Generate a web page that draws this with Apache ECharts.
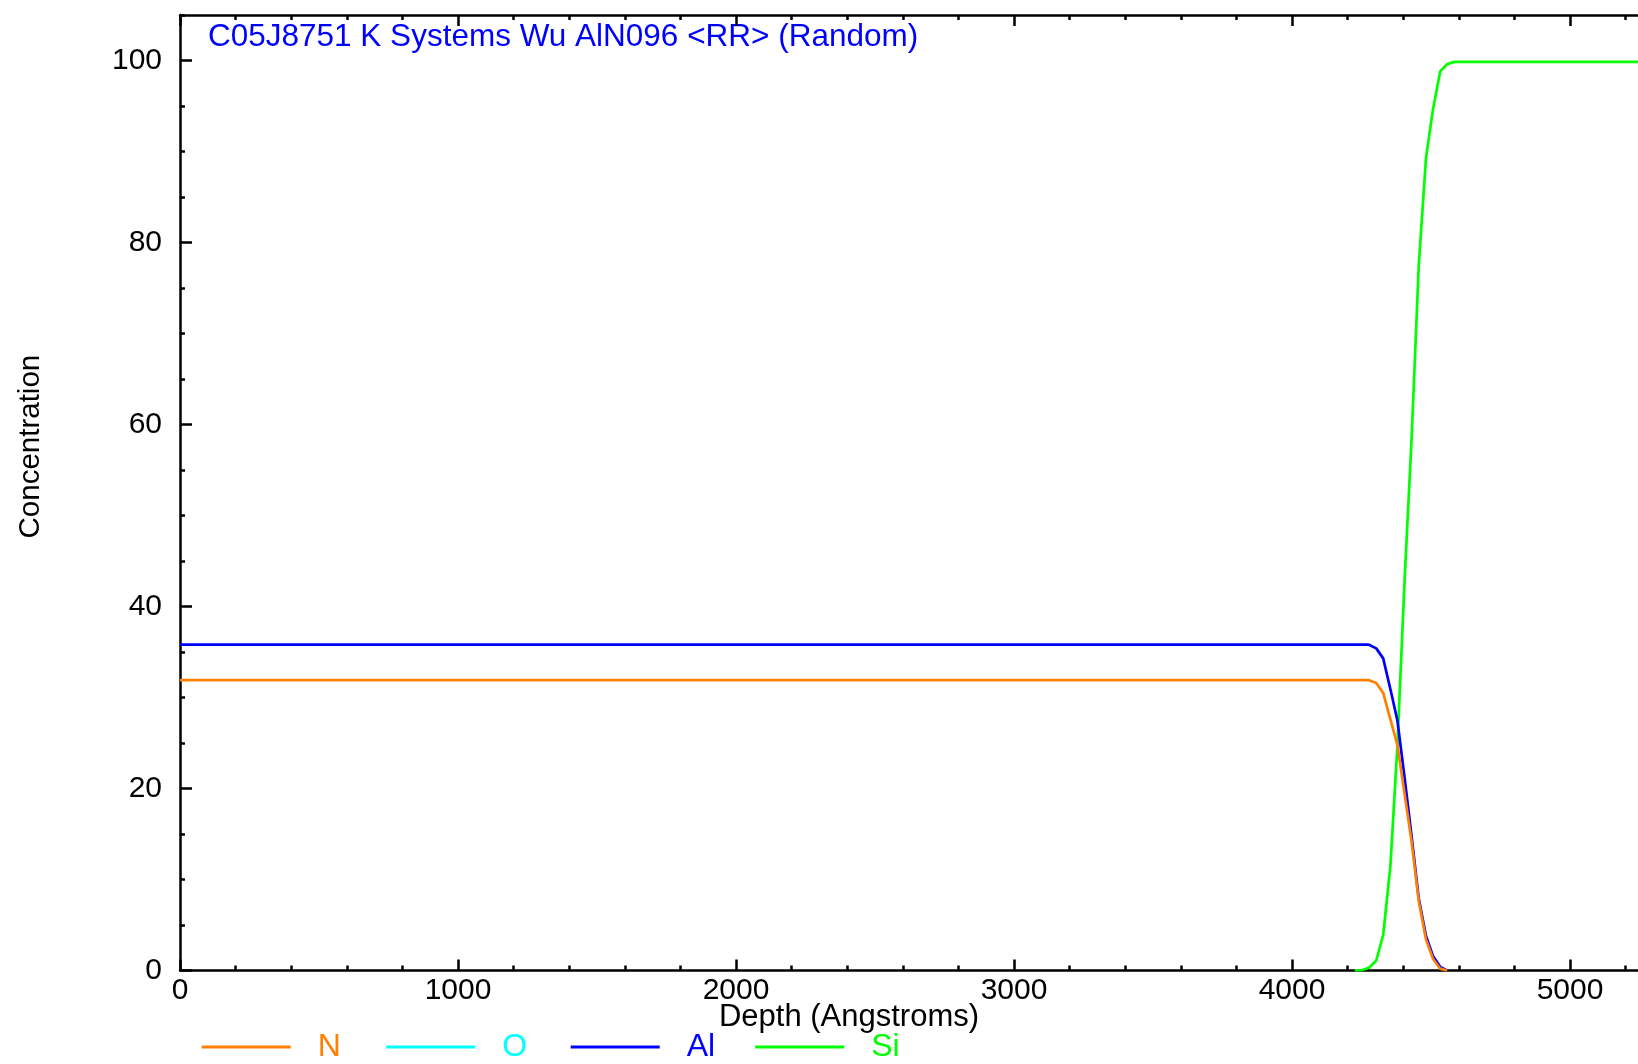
<!DOCTYPE html>
<html>
<head>
<meta charset="utf-8">
<script src="https://cdn.jsdelivr.net/npm/echarts@6/dist/echarts.min.js"></script>
<style>
  html, body { margin: 0; padding: 0; background: #ffffff; }
  #chart { width: 1638px; height: 1064px; }
</style>
</head>
<body>
<div id="chart"></div>
<script>
// ---- Data ----
const seriesNames = ['N', 'O', 'Al', 'Si'];
const seriesColors = ['#FF8000', '#00FFFF', '#0000FF', '#00FF00'];

const depthN  = [0, 4277, 4303, 4328, 4354, 4379, 4405, 4430, 4456, 4482, 4507, 4533, 4558];
const concN   = [31.9, 31.9, 31.6, 30.5, 27.6, 24.8, 19.4, 14.2, 7.6, 3.4, 1.3, 0.2, 0];

const depthO  = [];   // O is not visible in the plotted range
const concO   = [];

const depthAl = [0, 4277, 4303, 4328, 4354, 4379, 4405, 4430, 4456, 4482, 4507, 4533, 4558];
const concAl  = [35.8, 35.8, 35.4, 34.3, 30.9, 27.5, 21.2, 14.8, 7.9, 3.8, 1.6, 0.4, 0];

const depthSi = [4226, 4252, 4277, 4303, 4328, 4354, 4379, 4405, 4430, 4456, 4482, 4507, 4533, 4558, 4584, 6000];
const concSi  = [0, 0.05, 0.3, 1.1, 3.9, 11.5, 24.6, 42.9, 58.3, 77.5, 89.3, 94.6, 98.8, 99.6, 99.85, 99.85];

const titleText = 'C05J8751 K Systems Wu AlN096 <RR> (Random)';
const xAxisName = 'Depth (Angstroms)';
const yAxisName = 'Concentration';

// ---- Build chart ----
const FONT = '"Liberation Sans", Arial, Helvetica, sans-serif';
const pair = (xs, ys) => xs.map((x, i) => [x, ys[i]]);

const chart = echarts.init(document.getElementById('chart'), null, { renderer: 'canvas' });

const lineSt = { color: '#000', width: 2.5 };

const xBase = {
  type: 'value', min: 0, max: 6000, interval: 1000,
  axisLine: { show: true, onZero: false, lineStyle: lineSt },
  axisTick: { show: true, inside: true, length: 11, lineStyle: lineSt },
  minorTick: { show: true, splitNumber: 5, length: 5, lineStyle: lineSt },
  splitLine: { show: false },
  minorSplitLine: { show: false }
};

const seriesDefs = [
  { name: 'Si', data: pair(depthSi, concSi), color: seriesColors[3] },
  { name: 'Al', data: pair(depthAl, concAl), color: seriesColors[2] },
  { name: 'O',  data: pair(depthO, concO),   color: seriesColors[1] },
  { name: 'N',  data: pair(depthN, concN),   color: seriesColors[0] }
];

const option = {
  backgroundColor: '#ffffff',
  animation: false,
  grid: { left: 180, top: 15, width: 1668, height: 955.5, containLabel: false, outerBoundsMode: 'none' },
  xAxis: [
    Object.assign({}, xBase, {
      position: 'bottom',
      axisLabel: { show: true, color: '#000', fontSize: 30, fontFamily: FONT, margin: 5,
                   formatter: v => String(v) }
    }),
    Object.assign({}, xBase, {
      position: 'top',
      axisLabel: { show: false }
    })
  ],
  yAxis: [
    {
      type: 'value', min: 0, max: 105, interval: 20, position: 'left',
      axisLine: { show: true, onZero: false, lineStyle: lineSt },
      axisTick: { show: true, inside: true, length: 12, lineStyle: lineSt },
      axisLabel: { show: true, color: '#000', fontSize: 30, fontFamily: FONT, margin: 18, showMaxLabel: false,
                   formatter: v => String(v) },
      splitLine: { show: false }
    },
    {
      type: 'value', min: 0, max: 105, interval: 5, position: 'left',
      axisLine: { show: false, onZero: false },
      axisTick: { show: true, inside: true, length: 5, lineStyle: lineSt },
      axisLabel: { show: false },
      splitLine: { show: false }
    }
  ],
  legend: seriesNames.map((n, i) => ({
    data: [n],
    left: 201.7 + i * 184.5,
    top: 1031,
    padding: 0,
    icon: 'rect',
    itemWidth: 89,
    itemHeight: 3,
    selectedMode: false,
    textStyle: { color: seriesColors[i], fontSize: 32, fontFamily: FONT, padding: [0, 0, 0, 22] }
  })),
  graphic: [
    {
      type: 'text', x: 208, y: 37.5,
      style: { text: titleText, fill: '#0000FF', font: '31.5px ' + FONT, align: 'left', verticalAlign: 'middle' }
    },
    {
      type: 'text', x: 849, y: 1017,
      style: { text: xAxisName, fill: '#000', font: '31px ' + FONT, align: 'center', verticalAlign: 'middle' }
    },
    {
      type: 'text', x: 31, y: 446.6, rotation: Math.PI / 2,
      style: { text: yAxisName, fill: '#000', font: '29.5px ' + FONT, align: 'center', verticalAlign: 'middle' }
    }
  ],
  series: seriesDefs.map(s => ({
    name: s.name,
    type: 'line',
    xAxisIndex: 0,
    yAxisIndex: 0,
    data: s.data,
    showSymbol: false,
    symbol: 'none',
    smooth: false,
    clip: true,
    itemStyle: { color: s.color },
    lineStyle: { color: s.color, width: 2.7 }
  }))
};

chart.setOption(option);
</script>
</body>
</html>
